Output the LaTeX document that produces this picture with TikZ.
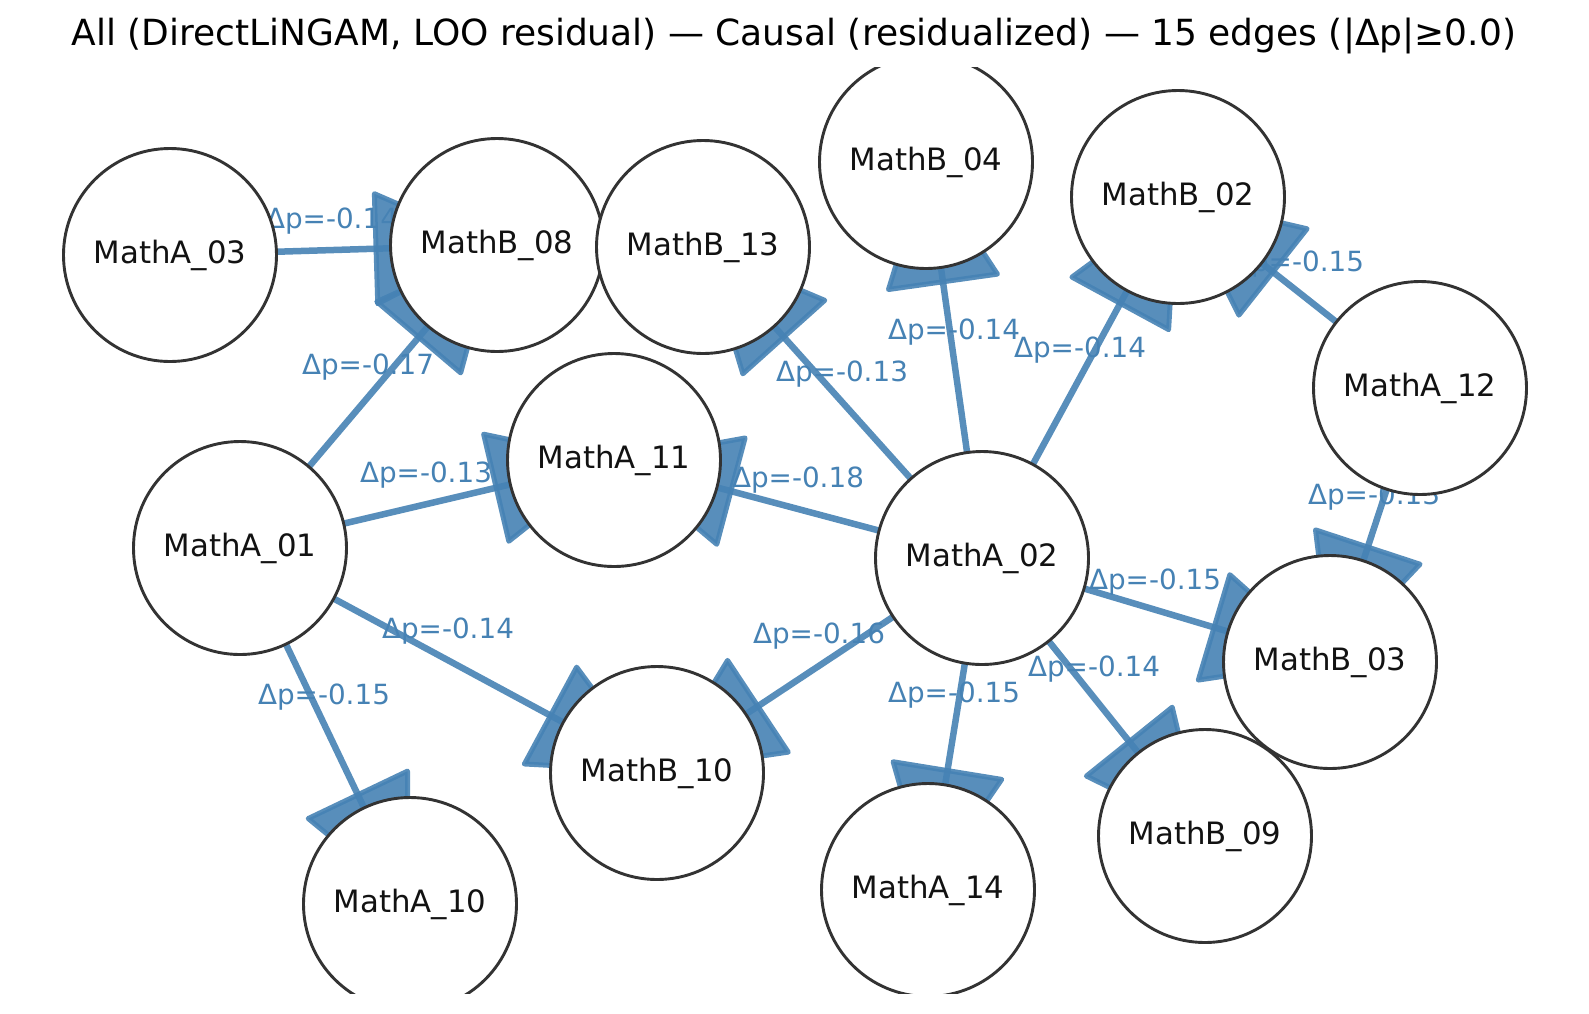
\documentclass[tikz,border=0pt]{standalone}
\usepackage{fontspec}
\setmainfont{DejaVu Sans}
\usetikzlibrary{calc}
\definecolor{edgeblue}{HTML}{4682B4}
\definecolor{nodeedge}{HTML}{333333}
\pgfdeclarelayer{edges}
\pgfdeclarelayer{labels}
\pgfsetlayers{edges,labels,main}
\begin{document}
\begin{tikzpicture}[x=1pt,y=-1pt,
  vtx/.style={circle, draw=nodeedge, line width=2.9pt, fill=white, minimum size=213pt, inner sep=0pt, font=\fontsize{30.8}{30.8}\selectfont, text=black!93},
  lbl/.style={text=edgeblue, font=\fontsize{27.8}{27.8}\selectfont, inner sep=0pt},
  shaft/.style={draw=edgeblue, line width=6.5pt, draw opacity=0.9},
  headtri/.style={fill=edgeblue, fill opacity=0.9, draw=edgeblue, draw opacity=0.9, line width=5pt, line join=round},
  ttl/.style={font=\fontsize{36}{36}\selectfont, text=black, inner sep=0pt}]
\useasboundingbox (0,0) rectangle (1589,1013);
\node[ttl] (title) at (794,36) {All (DirectLiNGAM, LOO residual) — Causal (residualized) — 15 edges (|Δp|≥0.0)};
\begin{scope}
\clip (0,67) rectangle (1589,993);
\node[vtx] (A03) at (170,255) {MathA\_03};
\node[vtx] (B08) at (497,245) {MathB\_08};
\node[vtx] (B13) at (703,247) {MathB\_13};
\node[vtx] (B04) at (926,162) {MathB\_04};
\node[vtx] (B02) at (1178,197) {MathB\_02};
\node[vtx] (A12) at (1420,388) {MathA\_12};
\node[vtx] (A11) at (614,460) {MathA\_11};
\node[vtx] (A01) at (240,548) {MathA\_01};
\node[vtx] (A02) at (982,558) {MathA\_02};
\node[vtx] (B03) at (1330,662) {MathB\_03};
\node[vtx] (B10) at (657,773) {MathB\_10};
\node[vtx] (A10) at (410,904) {MathA\_10};
\node[vtx] (A14) at (928,890) {MathA\_14};
\node[vtx] (B09) at (1205,836) {MathB\_09};
\end{scope}
\begin{pgfonlayer}{edges}
\begin{scope}
\clip (0,67) rectangle (1589,993);
\foreach \s/\t in {A03/B08, A01/B08, A01/A11, A02/A11, A02/B13, A02/B04, A02/B02, A12/B02, A12/B03, A02/B03, A02/B09, A02/A14, A02/B10, A01/B10, A01/A10}{
  \draw[shaft] (\s.center) -- (\t.center);
  \coordinate (hb) at ($(\t.center)!121pt!(\s.center)$);
  \coordinate (ht) at ($(\t.center)!4pt!(\s.center)$);
  \filldraw[headtri] ($(hb)!55pt!90:(\t.center)$) -- (ht) -- ($(hb)!55pt!-90:(\t.center)$) -- cycle;
}
\end{scope}
\end{pgfonlayer}
\begin{pgfonlayer}{labels}
\begin{scope}
\clip (0,67) rectangle (1589,993);
\node[lbl] (l1) at (332,221) {Δp=-0.14};
\node[lbl] (l2) at (368,367) {Δp=-0.17};
\node[lbl] (l3) at (426,475) {Δp=-0.13};
\node[lbl] (l4) at (798,480) {Δp=-0.18};
\node[lbl] (l5) at (842,374) {Δp=-0.13};
\node[lbl] (l6) at (954,332) {Δp=-0.14};
\node[lbl] (l7) at (1080,350) {Δp=-0.14};
\node[lbl] (l8) at (1298,264) {Δp=-0.15};
\node[lbl] (l9) at (1374,497) {Δp=-0.13};
\node[lbl] (l10) at (1155,582) {Δp=-0.15};
\node[lbl] (l11) at (1094,669) {Δp=-0.14};
\node[lbl] (l12) at (954,695) {Δp=-0.15};
\node[lbl] (l13) at (819,636) {Δp=-0.16};
\node[lbl] (l14) at (448,631) {Δp=-0.14};
\node[lbl] (l15) at (324,697) {Δp=-0.15};
\end{scope}
\end{pgfonlayer}
\end{tikzpicture}
\end{document}
